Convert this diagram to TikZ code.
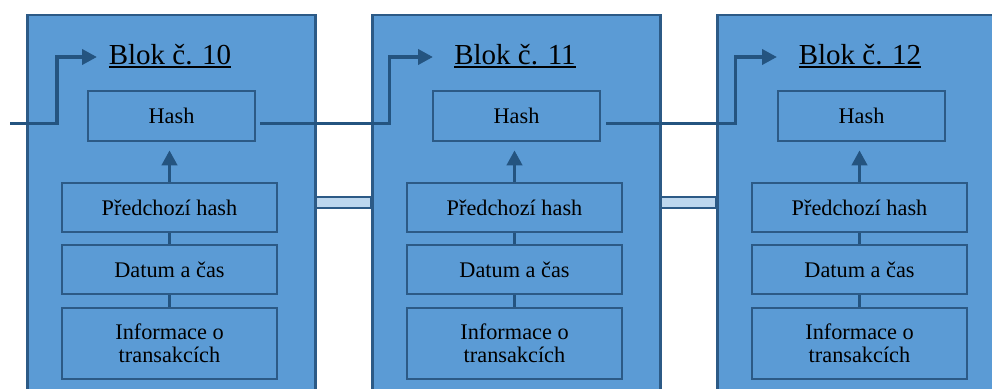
\documentclass[tikz,border=0pt]{standalone}
\usepackage{fontspec}
\setmainfont{Liberation Serif}
\usetikzlibrary{arrows.meta}
\definecolor{blockfill}{RGB}{91,155,213}
\definecolor{edgecol}{RGB}{44,90,134}
\definecolor{arrowcol}{RGB}{36,84,128}
\definecolor{barfill}{RGB}{189,215,238}
\newcommand\ulblok[1]{\setbox0\hbox{#1}\rlap{\rule[-4.3pt]{\wd0}{2.2pt}}\box0}
\tikzset{
  blockbox/.style={draw=edgecol, line width=2.6pt, fill=blockfill, rectangle, minimum width=288pt, minimum height=392pt, inner sep=0pt, anchor=north west},
  inbox/.style={draw=edgecol, line width=2.6pt, rectangle, minimum width=215pt, minimum height=49pt, inner sep=0pt, font=\fontsize{22.3}{23}\selectfont, align=center},
  hashbox/.style={inbox, minimum width=167pt, minimum height=50pt},
  titletext/.style={font=\fontsize{29}{32}\selectfont, anchor=base, inner sep=0pt},
  chain/.style={draw=arrowcol, line width=3.9pt, -{Triangle[length=15pt,width=15pt]}},
  link/.style={draw=arrowcol, line width=3pt},
  barbox/.style={draw=edgecol, line width=2pt, fill=barfill}
}
\begin{document}
\begin{tikzpicture}[x=1pt,y=-1pt]
\clip (0,0) rectangle (992,388);
\fill[white] (0,0) rectangle (992,388);
% bars between blocks
\foreach \i in {0,1}{
  \pgfmathsetmacro{\L}{26+345*\i}
  \path[barbox] (\L+288,197) rectangle (\L+345,208);
}
\foreach \i/\n in {0/10,1/11,2/12}{
  \pgfmathsetmacro{\L}{26+345*\i}
  \node[blockbox] (b\i) at (\L,13.5) {};
  \node[titletext] (t\i) at (\L+144,64) {\ulblok{Blok č. \n}};
  \node[hashbox] (h\i) at (\L+145.5,116) {Hash};
  \node[inbox] (p\i) at (\L+143.5,207.5) {Předchozí hash};
  \node[inbox] (d\i) at (\L+143.5,269.5) {Datum a čas};
  \node[inbox, minimum height=71pt] (f\i) at (\L+143.5,343.5) {Informace o\\transakcích};
  \draw[link] (p\i.south) -- (d\i.north);
  \draw[link] (d\i.south) -- (f\i.north);
  \draw[chain] (p\i.north) -- ([yshift=-8pt]p\i.north |- h\i.south);
}
% chain connectors
\coordinate (in0) at (10,123.5);
\coordinate (bend0) at (57,57);
\coordinate (tip0) at (97,57);
\coordinate (s1) at (260,123.5);
\coordinate (bend1) at (389.5,57);
\coordinate (tip1) at (433,57);
\coordinate (s2) at (606,123.5);
\coordinate (bend2) at (735.5,57);
\coordinate (tip2) at (777,57);
\draw[chain] (in0) -| (bend0) -- (tip0);
\draw[chain] (s1) -| (bend1) -- (tip1);
\draw[chain] (s2) -| (bend2) -- (tip2);
\end{tikzpicture}
\end{document}
